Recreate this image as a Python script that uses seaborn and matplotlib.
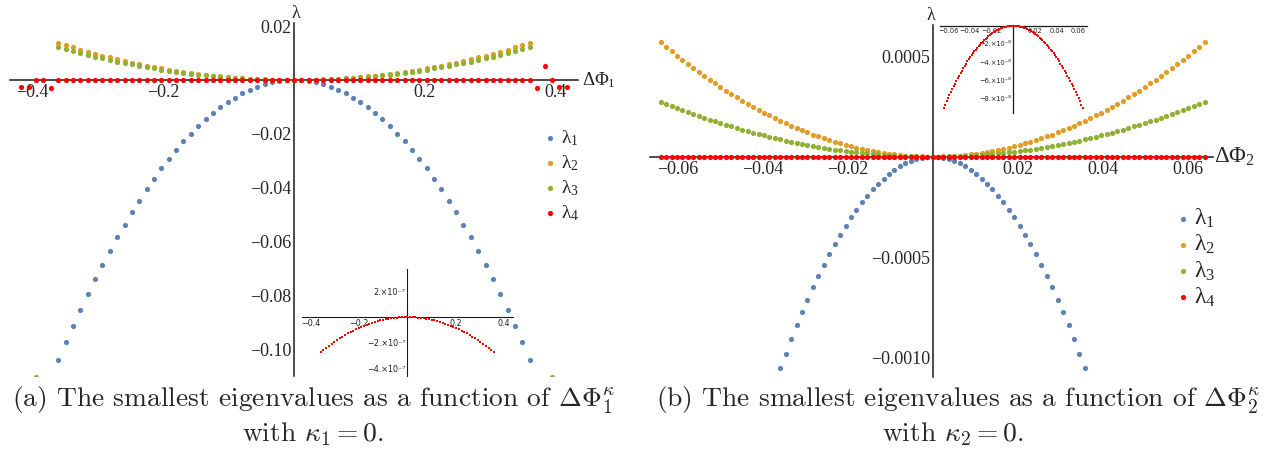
import numpy as np
import matplotlib
matplotlib.use("Agg")
import matplotlib.pyplot as plt
import seaborn as sns
from matplotlib.ticker import MultipleLocator

# ---------------------------------------------------------------- data (a)
x_a = [-0.36, -0.34875, -0.3375, -0.32625, -0.315, -0.30375, -0.2925, -0.28125,
       -0.27, -0.25875, -0.2475, -0.23625, -0.225, -0.21375, -0.2025, -0.19125,
       -0.18, -0.16875, -0.1575, -0.14625, -0.135, -0.12375, -0.1125, -0.10125,
       -0.09, -0.07875, -0.0675, -0.05625, -0.045, -0.03375, -0.0225, -0.01125,
       0.0,
       0.01125, 0.0225, 0.03375, 0.045, 0.05625, 0.0675, 0.07875, 0.09,
       0.10125, 0.1125, 0.12375, 0.135, 0.14625, 0.1575, 0.16875, 0.18,
       0.19125, 0.2025, 0.21375, 0.225, 0.23625, 0.2475, 0.25875, 0.27,
       0.28125, 0.2925, 0.30375, 0.315, 0.32625, 0.3375, 0.34875, 0.36]

lam1_a = [-0.1037, -0.0973, -0.0911, -0.0852, -0.0794, -0.0738, -0.0685, -0.0633,
          -0.0583, -0.0536, -0.0490, -0.0447, -0.0405, -0.0366, -0.0328, -0.0293,
          -0.0259, -0.0228, -0.0199, -0.0171, -0.0146, -0.0123, -0.0101, -0.0082,
          -0.0065, -0.0050, -0.0037, -0.0025, -0.0016, -0.0009, -0.0004, -0.0001,
          0.0,
          -0.0001, -0.0004, -0.0009, -0.0016, -0.0025, -0.0037, -0.0050, -0.0065,
          -0.0082, -0.0101, -0.0123, -0.0146, -0.0171, -0.0199, -0.0228, -0.0259,
          -0.0293, -0.0328, -0.0366, -0.0405, -0.0447, -0.0490, -0.0536, -0.0583,
          -0.0633, -0.0685, -0.0738, -0.0794, -0.0852, -0.0911, -0.0973, -0.1037]

lam2_a = [0.01374, 0.01289, 0.01207, 0.01128, 0.01052, 0.00978, 0.00907, 0.00839,
          0.00773, 0.00710, 0.00649, 0.00592, 0.00537, 0.00484, 0.00435, 0.00388,
          0.00344, 0.00302, 0.00263, 0.00227, 0.00193, 0.00162, 0.00134, 0.00109,
          0.00086, 0.00066, 0.00048, 0.00034, 0.00022, 0.00012, 0.00005, 0.00001,
          0.0,
          0.00001, 0.00005, 0.00012, 0.00022, 0.00034, 0.00048, 0.00066, 0.00086,
          0.00109, 0.00134, 0.00162, 0.00193, 0.00227, 0.00263, 0.00302, 0.00344,
          0.00388, 0.00435, 0.00484, 0.00537, 0.00592, 0.00649, 0.00710, 0.00773,
          0.00839, 0.00907, 0.00978, 0.01052, 0.01128, 0.01207, 0.01289, 0.01374]

lam3_a = [0.01219, 0.01144, 0.01071, 0.01001, 0.00933, 0.00868, 0.00804, 0.00744,
          0.00685, 0.00630, 0.00576, 0.00525, 0.00476, 0.00430, 0.00386, 0.00344,
          0.00305, 0.00268, 0.00233, 0.00201, 0.00171, 0.00144, 0.00119, 0.00096,
          0.00076, 0.00058, 0.00043, 0.00030, 0.00019, 0.00011, 0.00005, 0.00001,
          0.0,
          0.00001, 0.00005, 0.00011, 0.00019, 0.00030, 0.00043, 0.00058, 0.00076,
          0.00096, 0.00119, 0.00144, 0.00171, 0.00201, 0.00233, 0.00268, 0.00305,
          0.00344, 0.00386, 0.00430, 0.00476, 0.00525, 0.00576, 0.00630, 0.00685,
          0.00744, 0.00804, 0.00868, 0.00933, 0.01001, 0.01071, 0.01144, 0.01219]

# lambda_4 of panel (a), in units of 1e-7
lam4_a_e7 = [-2.721, -2.553, -2.391, -2.235, -2.083, -1.937, -1.796, -1.661,
             -1.530, -1.406, -1.286, -1.172, -1.063, -0.959, -0.861, -0.768,
             -0.680, -0.598, -0.521, -0.449, -0.383, -0.321, -0.266, -0.215,
             -0.170, -0.130, -0.096, -0.066, -0.043, -0.024, -0.011, -0.003,
             0.0,
             -0.003, -0.011, -0.024, -0.043, -0.066, -0.096, -0.130, -0.170,
             -0.215, -0.266, -0.321, -0.383, -0.449, -0.521, -0.598, -0.680,
             -0.768, -0.861, -0.959, -1.063, -1.172, -1.286, -1.406, -1.530,
             -1.661, -1.796, -1.937, -2.083, -2.235, -2.391, -2.553, -2.721]

# scattered numerical points beyond the main range in panel (a)
x_a_edge4 = [-0.41625, -0.405, -0.39375, -0.3825, -0.37125,
             0.37125, 0.3825, 0.39375, 0.405, 0.41625]
lam4_a_edge = [-0.0026, -0.0026, 0.0, 0.0, -0.0030,
               -0.0030, 0.0053, 0.0, -0.0026, -0.0026]
x_a_edge3 = [-0.39375, 0.39375]
lam3_a_edge = [-0.1101, -0.1101]

# ---------------------------------------------------------------- data (b)
x_b = [-0.064, -0.06272, -0.06144, -0.06016, -0.05888, -0.0576, -0.05632, -0.05504, -0.05376, -0.05248,
       -0.0512, -0.04992, -0.04864, -0.04736, -0.04608, -0.0448, -0.04352, -0.04224, -0.04096, -0.03968,
       -0.0384, -0.03712, -0.03584, -0.03456, -0.03328, -0.032, -0.03072, -0.02944, -0.02816, -0.02688,
       -0.0256, -0.02432, -0.02304, -0.02176, -0.02048, -0.0192, -0.01792, -0.01664, -0.01536, -0.01408,
       -0.0128, -0.01152, -0.01024, -0.00896, -0.00768, -0.0064, -0.00512, -0.00384, -0.00256, -0.00128,
       0.0,
       0.00128, 0.00256, 0.00384, 0.00512, 0.0064, 0.00768, 0.00896, 0.01024, 0.01152, 0.0128,
       0.01408, 0.01536, 0.01664, 0.01792, 0.0192, 0.02048, 0.02176, 0.02304, 0.02432, 0.0256,
       0.02688, 0.02816, 0.02944, 0.03072, 0.032, 0.03328, 0.03456, 0.03584, 0.03712, 0.0384,
       0.03968, 0.04096, 0.04224, 0.04352, 0.0448, 0.04608, 0.04736, 0.04864, 0.04992, 0.0512,
       0.05248, 0.05376, 0.05504, 0.05632, 0.0576, 0.05888, 0.06016, 0.06144, 0.06272, 0.064]

# lambda_1..3 of panel (b), in units of 1e-6
lam1_b_e6 = [-3358.8, -3225.7, -3095.4, -2967.8, -2842.9, -2720.6, -2601.0, -2484.1, -2369.9, -2258.4,
             -2149.6, -2043.5, -1940.0, -1839.3, -1741.2, -1645.8, -1553.1, -1463.1, -1375.7, -1291.1,
             -1209.2, -1129.9, -1053.3, -979.4, -908.2, -839.7, -773.9, -710.7, -650.3, -592.5,
             -537.4, -485.0, -435.3, -388.3, -343.9, -302.3, -263.3, -227.1, -193.5, -162.6,
             -134.4, -108.8, -86.0, -65.8, -48.4, -33.6, -21.5, -12.1, -5.4, -1.3,
             0.0,
             -1.3, -5.4, -12.1, -21.5, -33.6, -48.4, -65.8, -86.0, -108.8, -134.4,
             -162.6, -193.5, -227.1, -263.3, -302.3, -343.9, -388.3, -435.3, -485.0, -537.4,
             -592.5, -650.3, -710.7, -773.9, -839.7, -908.2, -979.4, -1053.3, -1129.9, -1209.2,
             -1291.1, -1375.7, -1463.1, -1553.1, -1645.8, -1741.2, -1839.3, -1940.0, -2043.5, -2149.6,
             -2258.4, -2369.9, -2484.1, -2601.0, -2720.6, -2842.9, -2967.8, -3095.4, -3225.7, -3358.8]

lam2_b_e6 = [569.4, 546.8, 524.7, 503.1, 481.9, 461.2, 440.9, 421.1, 401.7, 382.8,
             364.4, 346.4, 328.9, 311.8, 295.2, 279.0, 263.3, 248.0, 233.2, 218.9,
             205.0, 191.5, 178.6, 166.0, 154.0, 142.3, 131.2, 120.5, 110.2, 100.4,
             91.1, 82.2, 73.8, 65.8, 58.3, 51.2, 44.6, 38.5, 32.8, 27.6,
             22.8, 18.5, 14.6, 11.2, 8.2, 5.7, 3.6, 2.0, 0.9, 0.2,
             0.0,
             0.2, 0.9, 2.0, 3.6, 5.7, 8.2, 11.2, 14.6, 18.5, 22.8,
             27.6, 32.8, 38.5, 44.6, 51.2, 58.3, 65.8, 73.8, 82.2, 91.1,
             100.4, 110.2, 120.5, 131.2, 142.3, 154.0, 166.0, 178.6, 191.5, 205.0,
             218.9, 233.2, 248.0, 263.3, 279.0, 295.2, 311.8, 328.9, 346.4, 364.4,
             382.8, 401.7, 421.1, 440.9, 461.2, 481.9, 503.1, 524.7, 546.8, 569.4]

lam3_b_e6 = [274.4, 263.6, 252.9, 242.5, 232.3, 222.3, 212.5, 203.0, 193.6, 184.5,
             175.6, 167.0, 158.5, 150.3, 142.3, 134.5, 126.9, 119.5, 112.4, 105.5,
             98.8, 92.3, 86.1, 80.0, 74.2, 68.6, 63.2, 58.1, 53.1, 48.4,
             43.9, 39.6, 35.6, 31.7, 28.1, 24.7, 21.5, 18.6, 15.8, 13.3,
             11.0, 8.9, 7.0, 5.4, 4.0, 2.7, 1.8, 1.0, 0.4, 0.1,
             0.0,
             0.1, 0.4, 1.0, 1.8, 2.7, 4.0, 5.4, 7.0, 8.9, 11.0,
             13.3, 15.8, 18.6, 21.5, 24.7, 28.1, 31.7, 35.6, 39.6, 43.9,
             48.4, 53.1, 58.1, 63.2, 68.6, 74.2, 80.0, 86.1, 92.3, 98.8,
             105.5, 112.4, 119.5, 126.9, 134.5, 142.3, 150.3, 158.5, 167.0, 175.6,
             184.5, 193.6, 203.0, 212.5, 222.3, 232.3, 242.5, 252.9, 263.6, 274.4]

# lambda_4 of panel (b), in units of 1e-8
lam4_b_e8 = [-9.03, -8.67, -8.32, -7.97, -7.64, -7.31, -6.99, -6.68, -6.37, -6.07,
             -5.78, -5.49, -5.21, -4.94, -4.68, -4.42, -4.17, -3.93, -3.70, -3.47,
             -3.25, -3.04, -2.83, -2.63, -2.44, -2.26, -2.08, -1.91, -1.75, -1.59,
             -1.44, -1.30, -1.17, -1.04, -0.92, -0.81, -0.71, -0.61, -0.52, -0.44,
             -0.36, -0.29, -0.23, -0.18, -0.13, -0.09, -0.06, -0.03, -0.01, -0.004,
             0.0,
             -0.004, -0.01, -0.03, -0.06, -0.09, -0.13, -0.18, -0.23, -0.29, -0.36,
             -0.44, -0.52, -0.61, -0.71, -0.81, -0.92, -1.04, -1.17, -1.30, -1.44,
             -1.59, -1.75, -1.91, -2.08, -2.26, -2.44, -2.63, -2.83, -3.04, -3.25,
             -3.47, -3.70, -3.93, -4.17, -4.42, -4.68, -4.94, -5.21, -5.49, -5.78,
             -6.07, -6.37, -6.68, -6.99, -7.31, -7.64, -7.97, -8.32, -8.67, -9.03]

lam4_a = np.array(lam4_a_e7) * 1e-7
lam1_b = np.array(lam1_b_e6) * 1e-6
lam2_b = np.array(lam2_b_e6) * 1e-6
lam3_b = np.array(lam3_b_e6) * 1e-6
lam4_b = np.array(lam4_b_e8) * 1e-8

# ---------------------------------------------------------------- ticks / text
xt_a = [-0.4, -0.2, 0.2, 0.4]
xt_a_lab = ["\u22120.4", "\u22120.2", "0.2", "0.4"]
yt_a = [0.02, -0.02, -0.04, -0.06, -0.08, -0.10]
yt_a_lab = ["0.02", "\u22120.02", "\u22120.04", "\u22120.06", "\u22120.08", "\u22120.10"]
xt_b = [-0.06, -0.04, -0.02, 0.02, 0.04, 0.06]
xt_b_lab = ["\u22120.06", "\u22120.04", "\u22120.02", "0.02", "0.04", "0.06"]
yt_b = [0.0005, -0.0005, -0.0010]
yt_b_lab = ["0.0005", "\u22120.0005", "\u22120.0010"]
xt_ia = [-0.4, -0.2, 0.2, 0.4]
xt_ia_lab = ["\u22120.4", "\u22120.2", "0.2", "0.4"]
yt_ia = [2e-7, -2e-7, -4e-7]
yt_ia_lab = ["2.\u00d710\u207b\u2077", "\u22122.\u00d710\u207b\u2077", "\u22124.\u00d710\u207b\u2077"]
xt_ib = [-0.06, -0.04, -0.02, 0.02, 0.04, 0.06]
xt_ib_lab = ["\u22120.06", "\u22120.04", "\u22120.02", "0.02", "0.04", "0.06"]
yt_ib = [-2e-8, -4e-8, -6e-8, -8e-8]
yt_ib_lab = ["\u22122.\u00d710\u207b\u2078", "\u22124.\u00d710\u207b\u2078",
             "\u22126.\u00d710\u207b\u2078", "\u22128.\u00d710\u207b\u2078"]

series_labels = [r"$\mathrm{\lambda}_1$", r"$\mathrm{\lambda}_2$",
                 r"$\mathrm{\lambda}_3$", r"$\mathrm{\lambda}_4$"]
cap_a1 = r"(a) The smallest eigenvalues as a function of $\Delta\Phi_1^\kappa$"
cap_a2 = r"with $\kappa_1 = 0$."
cap_b1 = r"(b) The smallest eigenvalues as a function of $\Delta\Phi_2^\kappa$"
cap_b2 = r"with $\kappa_2 = 0$."

C_BLUE, C_ORANGE, C_GREEN, C_RED = "#5E81B5", "#E19C24", "#8FB032", "#FF0000"
AX_COL = "#1a1a1a"

# ---------------------------------------------------------------- style
sns.set_style("white")
plt.rcParams.update({
    "font.family": ["Liberation Serif", "DejaVu Serif"],
    "mathtext.fontset": "custom",
    "mathtext.rm": "Liberation Serif",
    "mathtext.it": "Liberation Serif:italic",
    "mathtext.bf": "Liberation Serif:bold",
    "axes.unicode_minus": True,
})

W, H = 1267, 454
fig = plt.figure(figsize=(W / 100, H / 100), dpi=100)


def px_axes(left, top, right, bottom):
    return fig.add_axes([left / W, 1 - bottom / H, (right - left) / W, (bottom - top) / H])


def origin_axes(ax, xlim, ylim, lw, major_len, minor_len, xminor, yminor):
    ax.set_xlim(*xlim)
    ax.set_ylim(*ylim)
    ax.patch.set_alpha(0)
    ax.grid(False)
    for s in ("top", "right"):
        ax.spines[s].set_visible(False)
    for s in ("left", "bottom"):
        ax.spines[s].set_position(("data", 0))
        ax.spines[s].set_linewidth(lw)
        ax.spines[s].set_color(AX_COL)
    ax.tick_params(which="both", direction="in", color=AX_COL, width=lw * 0.8)
    ax.tick_params(which="major", length=major_len)
    ax.tick_params(which="minor", length=minor_len)
    ax.xaxis.set_minor_locator(MultipleLocator(xminor))
    ax.yaxis.set_minor_locator(MultipleLocator(yminor))


# ---------------------------------------------------------------- panel (a)
ax_a = px_axes(10, 23, 578, 376)
origin_axes(ax_a, (-0.4336, 0.4336), (-0.1098, 0.02115), 1.1, 4.5, 2.5, 0.05, 0.005)
ax_a.set_xticks(xt_a, xt_a_lab, fontsize=13, family="Liberation Serif")
ax_a.set_yticks(yt_a, yt_a_lab, fontsize=13, family="Liberation Serif")
ax_a.tick_params(axis="x", pad=3)
ax_a.tick_params(axis="y", pad=2)

kw = dict(s=14, linewidth=0, zorder=3)
sns.scatterplot(x=x_a, y=lam1_a, color=C_BLUE, ax=ax_a, label=series_labels[0], **kw)
sns.scatterplot(x=x_a, y=lam2_a, color=C_ORANGE, ax=ax_a, label=series_labels[1], **kw)
sns.scatterplot(x=x_a, y=lam3_a, color=C_GREEN, ax=ax_a, label=series_labels[2], **kw)
sns.scatterplot(x=x_a_edge3, y=lam3_a_edge, color=C_GREEN, ax=ax_a, **kw)
sns.scatterplot(x=x_a, y=lam4_a, color=C_RED, ax=ax_a, label=series_labels[3], **kw)
sns.scatterplot(x=x_a_edge4, y=lam4_a_edge, color=C_RED, ax=ax_a, **kw)
ax_a.set_xlabel("")
ax_a.set_ylabel("")

ax_a.annotate(r"$\mathrm{\Delta\Phi}_1$", xy=(0.4336, 0), xytext=(3, 0), textcoords="offset points",
              ha="left", va="center", fontsize=13.5, annotation_clip=False)
ax_a.annotate("\u03bb", xy=(0, 0.02115), xytext=(1, 1), textcoords="offset points",
              ha="center", va="bottom", fontsize=13, annotation_clip=False)

ax_a.legend(loc="upper left", bbox_to_anchor=(544 / W, 1 - 128 / H), bbox_transform=fig.transFigure,
            frameon=False, fontsize=14, handlelength=0.6, handletextpad=0.25,
            labelspacing=0.27, borderpad=0, borderaxespad=0)

# inset of panel (a)
ax_ia = px_axes(302, 269, 513, 376)
origin_axes(ax_ia, (-0.438, 0.439), (-4.61e-7, 3.75e-7), 0.8, 2.5, 1.3, 0.1, 1e-7)
ax_ia.set_xticks(xt_ia, xt_ia_lab, fontsize=5.8, family="DejaVu Sans", color="#222222")
ax_ia.set_yticks(yt_ia, yt_ia_lab, fontsize=5.8, family="DejaVu Sans", color="#222222")
ax_ia.tick_params(axis="both", pad=1.5)
sns.scatterplot(x=x_a, y=lam4_a, color=C_RED, ax=ax_ia, s=2.5, marker="s", linewidth=0, zorder=3)
ax_ia.set_xlabel("")
ax_ia.set_ylabel("")

# ---------------------------------------------------------------- panel (b)
ax_b = px_axes(650, 25, 1213, 377)
origin_axes(ax_b, (-0.0665, 0.066), (-0.001096, 0.000655), 1.1, 4.5, 2.5, 0.005, 0.0001)
ax_b.set_xticks(xt_b, xt_b_lab, fontsize=13, family="Liberation Serif")
ax_b.set_yticks(yt_b, yt_b_lab, fontsize=13, family="Liberation Serif")
ax_b.tick_params(axis="x", pad=3)
ax_b.tick_params(axis="y", pad=2)

sns.scatterplot(x=x_b, y=lam1_b, color=C_BLUE, ax=ax_b, label=series_labels[0], **kw)
sns.scatterplot(x=x_b, y=lam2_b, color=C_ORANGE, ax=ax_b, label=series_labels[1], **kw)
sns.scatterplot(x=x_b, y=lam3_b, color=C_GREEN, ax=ax_b, label=series_labels[2], **kw)
sns.scatterplot(x=x_b, y=lam4_b, color=C_RED, ax=ax_b, label=series_labels[3], **kw)
ax_b.set_xlabel("")
ax_b.set_ylabel("")

ax_b.annotate(r"$\mathrm{\Delta\Phi}_2$", xy=(0.066, 0), xytext=(1, 0), textcoords="offset points",
              ha="left", va="center", fontsize=16.5, annotation_clip=False)
ax_b.annotate("\u03bb", xy=(0, 0.000655), xytext=(-1, 1), textcoords="offset points",
              ha="center", va="bottom", fontsize=13, annotation_clip=False)

ax_b.legend(loc="upper left", bbox_to_anchor=(1177 / W, 1 - 207 / H), bbox_transform=fig.transFigure,
            frameon=False, fontsize=17, handlelength=0.5, handletextpad=0.2,
            labelspacing=0.12, borderpad=0, borderaxespad=0)

# inset of panel (b)
ax_ib = px_axes(940, 25, 1087, 113)
origin_axes(ax_ib, (-0.0676, 0.068), (-9.6e-8, 0.08e-8), 0.9, 2.0, 1.0, 0.01, 1e-8)
ax_ib.set_xticks(xt_ib, xt_ib_lab, fontsize=4.8, family="DejaVu Sans", color="#222222")
ax_ib.set_yticks(yt_ib, yt_ib_lab, fontsize=4.8, family="DejaVu Sans", color="#222222")
ax_ib.tick_params(axis="both", pad=1.5)
sns.scatterplot(x=x_b, y=lam4_b, color=C_RED, ax=ax_ib, s=0.8, marker="s", linewidth=0, zorder=3)
ax_ib.set_xlabel("")
ax_ib.set_ylabel("")

# ---------------------------------------------------------------- captions
cap_kw = dict(ha="center", va="center", fontsize=19.8, family="cmr10", math_fontfamily="cm")
fig.text(313 / W, 1 - 400 / H, cap_a1, **cap_kw)
fig.text(313 / W, 1 - 434 / H, cap_a2, **cap_kw)
fig.text(958 / W, 1 - 400 / H, cap_b1, **cap_kw)
fig.text(953 / W, 1 - 434 / H, cap_b2, **cap_kw)

fig.savefig("out.png", dpi=100)
